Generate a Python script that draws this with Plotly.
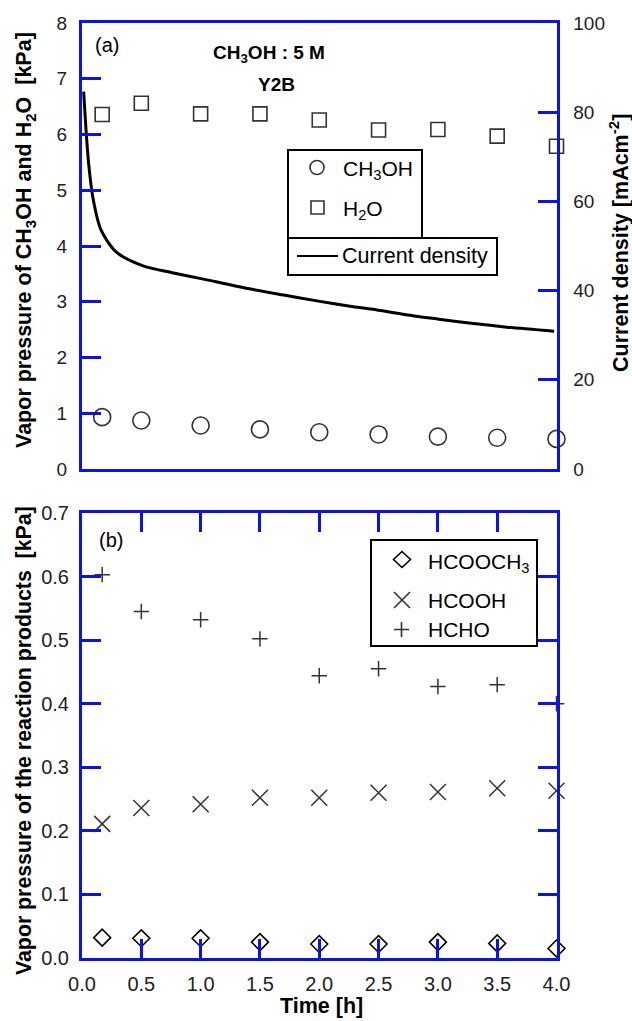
import plotly.graph_objects as go

# ---- data -------------------------------------------------------------
time_h = [0.17, 0.5, 1.0, 1.5, 2.0, 2.5, 3.0, 3.5, 4.0]

# panel (a): vapor pressures [kPa]
p_ch3oh = [0.93, 0.87, 0.78, 0.71, 0.66, 0.62, 0.58, 0.56, 0.54]
p_h2o = [6.36, 6.56, 6.37, 6.37, 6.26, 6.08, 6.09, 5.97, 5.79]

# panel (a): current density trace [mA cm-2]
cd_time = [0.014, 0.034, 0.056, 0.09, 0.16, 0.29, 0.51, 0.76, 1.13, 1.41,
           1.70, 1.98, 2.26, 2.45, 2.73, 3.01, 3.30, 3.58, 3.98]
cd_value = [84.6, 76.0, 68.5, 61.1, 53.6, 48.6, 45.6, 44.0, 42.0, 40.4,
            39.0, 37.7, 36.5, 35.8, 34.6, 33.6, 32.6, 31.8, 30.9]

# panel (b): reaction products [kPa]
p_hcooch3 = [0.032, 0.031, 0.031, 0.025, 0.022, 0.022, 0.025, 0.023, 0.015]
p_hcooh = [0.211, 0.236, 0.242, 0.252, 0.252, 0.260, 0.261, 0.267, 0.263]
p_hcho = [0.603, 0.545, 0.532, 0.502, 0.444, 0.455, 0.427, 0.430, 0.400]

x_ticks = [0, 0.5, 1.0, 1.5, 2.0, 2.5, 3.0, 3.5, 4.0]

# ---- geometry helpers (pixel -> paper) --------------------------------
W, H = 632, 1021


def px(x):
    return x / W


def py(y):
    return 1 - y / H


BLUE = "#0a14e6"
MARK = "#333333"
FONT = "Arial, Liberation Sans, sans-serif"

X_DOM = [px(82), px(556.5)]
TOP_DOM = [py(469), py(23)]
BOT_DOM = [py(958), py(513)]

fig = go.Figure()

# ---- panel (a) --------------------------------------------------------
fig.add_trace(go.Scatter(
    x=time_h, y=p_ch3oh, mode="markers", name="CH3OH",
    marker=dict(symbol="circle-open", size=17, color=MARK, line=dict(width=1.6)),
    xaxis="x", yaxis="y", cliponaxis=False, showlegend=False))
fig.add_trace(go.Scatter(
    x=time_h, y=p_h2o, mode="markers", name="H2O",
    marker=dict(symbol="square-open", size=14, color=MARK, line=dict(width=1.6)),
    xaxis="x", yaxis="y", cliponaxis=False, showlegend=False))
fig.add_trace(go.Scatter(
    x=cd_time, y=cd_value, mode="lines", name="Current density",
    line=dict(color="black", width=3, shape="spline", smoothing=0.8),
    xaxis="x", yaxis="y2", showlegend=False))

# ---- panel (b) --------------------------------------------------------
fig.add_trace(go.Scatter(
    x=time_h, y=p_hcooch3, mode="markers", name="HCOOCH3",
    marker=dict(symbol="diamond-open", size=13, color="black", line=dict(width=1.6)),
    xaxis="x2", yaxis="y3", cliponaxis=False, showlegend=False))
fig.add_trace(go.Scatter(
    x=time_h, y=p_hcooh, mode="markers", name="HCOOH",
    marker=dict(symbol="x-thin-open", size=16, color=MARK, line=dict(width=1.5, color=MARK)),
    xaxis="x2", yaxis="y3", cliponaxis=False, showlegend=False))
fig.add_trace(go.Scatter(
    x=time_h, y=p_hcho, mode="markers", name="HCHO",
    marker=dict(symbol="cross-thin-open", size=11, color=MARK, line=dict(width=1.5, color=MARK)),
    xaxis="x2", yaxis="y3", cliponaxis=False, showlegend=False))

axis_common = dict(
    showgrid=False, zeroline=False, showline=True, linecolor=BLUE, linewidth=3,
    tickcolor=BLUE, tickwidth=3, ticklen=19, ticks="inside",
    tickfont=dict(family=FONT, size=19, color="#222"), automargin=False,
)

fig.update_layout(
    width=W, height=H,
    margin=dict(l=0, r=0, t=0, b=0),
    paper_bgcolor="white", plot_bgcolor="white",
    font=dict(family=FONT, color="black"),
    xaxis=dict(axis_common, domain=X_DOM, anchor="y", range=[0, 4],
               mirror=True, ticks="", showticklabels=False),
    yaxis=dict(axis_common, domain=TOP_DOM, anchor="x", range=[0, 8],
               tickvals=list(range(0, 9)), ticklabelstandoff=8),
    yaxis2=dict(axis_common, overlaying="y", side="right", anchor="x",
                range=[0, 100], tickvals=[0, 20, 40, 60, 80, 100],
                ticklabelstandoff=10),
    xaxis2=dict(axis_common, domain=X_DOM, anchor="y3", range=[0, 4],
                tickvals=x_ticks, tickformat=".1f", mirror="ticks",
                tickfont=dict(family=FONT, size=20, color="#222"),
                ticklabelstandoff=6),
    yaxis3=dict(axis_common, domain=BOT_DOM, anchor="x2", range=[0, 0.7],
                dtick=0.1, tick0=0, tickformat=".1f", mirror="ticks",
                tickfont=dict(family=FONT, size=20, color="#222"),
                ticklabelstandoff=6),
)

# ---- text annotations ---------------------------------------------------
ann = []


def add_text(text, x, y, size, bold=False, xanchor="center", yanchor="middle", angle=0):
    ann.append(dict(
        text=f"<b>{text}</b>" if bold else text,
        x=px(x), y=py(y), xref="paper", yref="paper",
        xanchor=xanchor, yanchor=yanchor, showarrow=False, textangle=angle,
        font=dict(family=FONT, size=size, color="black")))


add_text("Vapor pressure of CH<sub>3</sub>OH and H<sub>2</sub>O\u00a0\u00a0[kPa]",
         25, 240, 21.5, bold=True, angle=-90)
add_text("Current density [mAcm<sup>-2</sup>]", 619, 243, 21.5, bold=True, angle=-90)
add_text("Vapor pressure of the reaction products\u00a0\u00a0[kPa]",
         24, 741, 21.3, bold=True, angle=-90)
add_text("Time [h]", 321, 1006, 21.5, bold=True)

add_text("(a)", 93, 45, 20, xanchor="left")
add_text("(b)", 97, 540, 20, xanchor="left")
add_text("CH<sub>3</sub>OH : 5 M", 269, 54, 19, bold=True)
add_text("Y2B", 276, 84, 19, bold=True)

# legend texts
add_text("CH<sub>3</sub>OH", 341, 170, 21, xanchor="left")
add_text("H<sub>2</sub>O", 341, 210, 21, xanchor="left")
add_text("Current density", 340, 256, 21.5, xanchor="left")
add_text("HCOOCH<sub>3</sub>", 426, 563, 21, xanchor="left")
add_text("HCOOH", 426, 600, 21, xanchor="left")
add_text("HCHO", 426, 629, 21, xanchor="left")

fig.update_layout(annotations=ann)

# ---- legend boxes and glyphs --------------------------------------------
shapes = []


def rect(x0, y0, x1, y1, color="black", width=2):
    shapes.append(dict(type="rect", xref="paper", yref="paper",
                       x0=px(x0), x1=px(x1), y0=py(y1), y1=py(y0),
                       line=dict(color=color, width=width), fillcolor="rgba(0,0,0,0)"))


def path(d_pts, color=MARK, width=1.6, closed=False):
    d = ""
    for seg in d_pts:
        d += "M" + " L".join(f"{px(a):.5f},{py(b):.5f}" for a, b in seg)
        if closed:
            d += " Z"
        d += " "
    shapes.append(dict(type="path", xref="paper", yref="paper", path=d.strip(),
                       line=dict(color=color, width=width)))


rect(288, 150, 422, 238)
rect(288, 238, 497, 275)
rect(371, 540, 537, 646)

# circle glyph
shapes.append(dict(type="circle", xref="paper", yref="paper",
                   x0=px(310), x1=px(324), y0=py(174.5), y1=py(160.5),
                   line=dict(color=MARK, width=1.6)))
# square glyph
rect(311, 201, 324, 214, color=MARK, width=1.6)
# line glyph
path([[(297, 256), (338, 256)]], color="black", width=2)
# diamond glyph
path([[(402, 551.5), (410.5, 559.5), (402, 567.5), (393.5, 559.5)]], color="black", closed=True)
# x glyph
path([[(394, 592), (410, 608)], [(394, 608), (410, 592)]])
# plus glyph
path([[(394, 629.5), (409, 629.5)], [(401.5, 622), (401.5, 637)]])

fig.update_layout(shapes=shapes)

fig.write_html("out.html", config={"displayModeBar": False})
